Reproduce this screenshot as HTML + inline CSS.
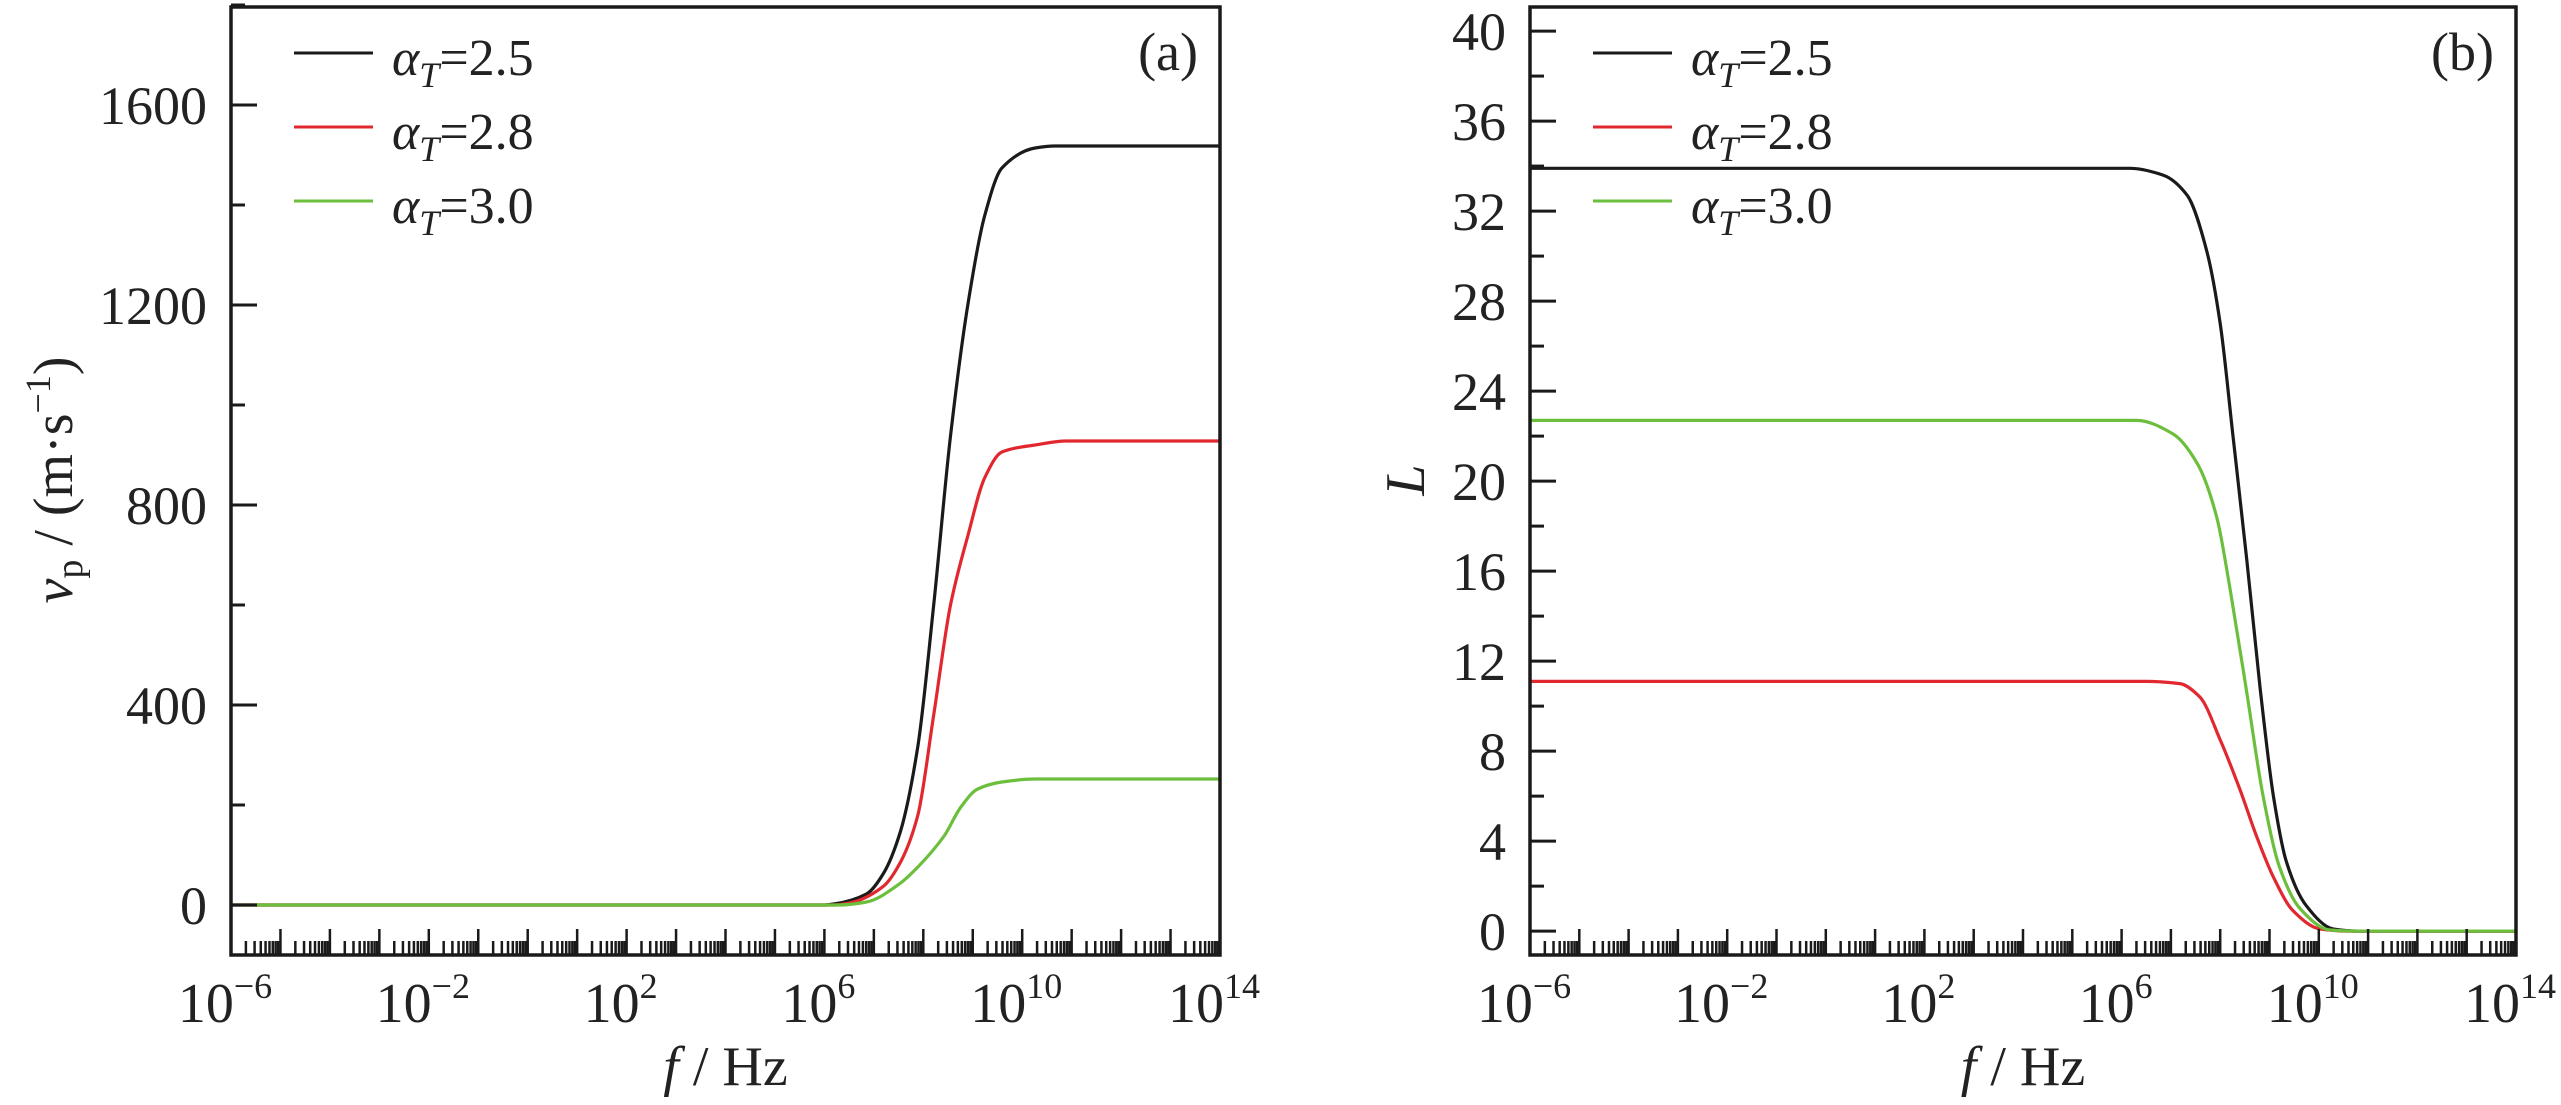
<!DOCTYPE html>
<html><head><meta charset="utf-8"><title>vp and L vs f</title>
<style>html,body{margin:0;padding:0;background:#fff;}svg{display:block;}text{font-family:"Liberation Serif","DejaVu Serif",serif;fill:#222;}</style>
</head><body>
<svg id="chart" width="2561" height="1105" viewBox="0 0 2561 1105" xmlns="http://www.w3.org/2000/svg"></svg>
<script>
// ---- data (log10 f, value) ----
const seriesNames = ["αT=2.5","αT=2.8","αT=3.0"];
const seriesColors = ["#1a1a1a","#e0282e","#6cbf3c"];
// panel (a) v_p
const aBlackX = [-6,6.0,6.19,6.85,7.2,7.54,7.89,8.21,8.55,8.9,9.24,9.59,10.26,10.66,14];
const aBlackY = [0,0,2,22,64,148,318,600,938,1200,1378,1474,1514,1518,1518];
const aRedX = [-6,6.2,6.51,7.2,7.54,7.89,8.21,8.55,8.9,9.24,9.59,10.26,10.9,14];
const aRedY = [0,0,4,38,86,180,380,600,738,854,906,920,928,928];
const aGreenX = [-6,6.3,6.85,7.54,7.89,8.42,8.76,9.1,9.59,10.26,14];
const aGreenY = [0,0,6,44,76,138,196,232,246,252,252];
// panel (b) L
const bBlackX = [-6,6.17,6.84,7.33,7.73,8.0,8.26,8.54,8.81,9.08,9.34,9.74,10.29,10.8,14];
const bBlackY = [33.9,33.9,33.6,32.7,30.2,27.0,22.0,16.5,10.8,6.0,3.1,1.15,0.1,0,0];
const bGreenX = [-6,6.3,7.04,7.53,7.93,8.2,8.54,8.87,9.21,9.62,10.23,10.8,14];
const bGreenY = [22.7,22.7,22.1,20.8,18.4,15.2,10.6,6.0,2.8,1.0,0.05,0,0];
const bRedX = [-6,6.5,7.18,7.59,8.0,8.4,8.74,9.08,9.48,10.02,10.6,14];
const bRedY = [11.1,11.1,11.0,10.4,8.5,6.3,4.2,2.4,0.9,0.1,0,0];
const aYTicks = [0,400,800,1200,1600];
const bYTicks = [0,4,8,12,16,20,24,28,32,36,40];
const xTickExps = [-6,-2,2,6,10,14];

const NS="http://www.w3.org/2000/svg";
const svg=document.getElementById('chart');
function mk(tag,attrs,parent){const e=document.createElementNS(NS,tag);for(const k in attrs)e.setAttribute(k,attrs[k]);(parent||svg).appendChild(e);return e;}
// monotone cubic (Fritsch-Carlson) path
function monotone(pts){
 const n=pts.length,dx=[],s=[],m=[];
 for(let i=0;i<n-1;i++){dx[i]=pts[i+1][0]-pts[i][0];s[i]=(pts[i+1][1]-pts[i][1])/dx[i];}
 m[0]=s[0];m[n-1]=s[n-2];
 for(let i=1;i<n-1;i++){
  if(s[i-1]*s[i]<=0)m[i]=0;
  else{const w1=2*dx[i]+dx[i-1],w2=dx[i]+2*dx[i-1];m[i]=(w1+w2)/(w1/s[i-1]+w2/s[i]);}
 }
 let d="M"+pts[0][0].toFixed(1)+","+pts[0][1].toFixed(1);
 for(let i=0;i<n-1;i++){const h=dx[i]/3;
  d+=" C"+(pts[i][0]+h).toFixed(1)+","+(pts[i][1]+m[i]*h).toFixed(1)+" "+(pts[i+1][0]-h).toFixed(1)+","+(pts[i+1][1]-m[i+1]*h).toFixed(1)+" "+pts[i+1][0].toFixed(1)+","+pts[i+1][1].toFixed(1);}
 return d;}

function panel(cfg){
 const g=mk('g',{});
 
 
 const L=cfg.left,R=cfg.right,T=7,B=955;
 const xs=v=>L+(v+6)/20*(R-L);
 const ys=v=>B-(v-cfg.ymin)/(cfg.ymax-cfg.ymin)*(B-T);
 cfg.series.forEach((s,i)=>{
  const pts=s[0].map((x,j)=>[xs(x),ys(s[1][j])]);
  const p=mk('path',{d:monotone(pts),fill:'none',stroke:seriesColors[i],'stroke-width':3.2},g);
  
  
 });
 const fr=mk('rect',{x:L,y:T,width:R-L,height:B-T,fill:'none',stroke:'#1a1a1a','stroke-width':3.5},g);
 
 
 const yt=cfg.yticks;const step=yt[1]-yt[0];
 for(let v=yt[0];v<=yt[yt.length-1]+step/2;v+=step/2){
  const y=ys(v);const major=Math.abs((v-yt[0])/step-Math.round((v-yt[0])/step))<1e-6;
  mk('line',{x1:L,x2:L+(major?26:14),y1:y,y2:y,stroke:'#1a1a1a','stroke-width':3},g);
 }
 yt.forEach(v=>{const t=mk('text',{x:L-24,y:ys(v)+19,'text-anchor':'end','font-size':54},g);t.textContent=v;
  
  });
 for(let e=-6;e<=14;e++){
  mk('line',{x1:xs(e),x2:xs(e),y1:B,y2:B-26,stroke:'#1a1a1a','stroke-width':2.5},g);
  if(e<14)for(let m=2;m<=9;m++){const x=xs(e+Math.log10(m));mk('line',{x1:x,x2:x,y1:B,y2:B-14,stroke:'#1a1a1a','stroke-width':2.5},g);}
 }
 xTickExps.forEach(e=>{const t=mk('text',{x:xs(e)-6,y:1022,'text-anchor':'middle','font-size':56},g);
  t.innerHTML='10<tspan dy="-24" font-size="36">'+(e<0?'−'+(-e):e)+'</tspan>';
  
  });
 const xl=mk('text',{x:(L+R)/2,y:1085,'text-anchor':'middle','font-size':56},g);
 xl.innerHTML='<tspan font-style="italic">f</tspan> / Hz';
 
 
 const yl=mk('text',{transform:'translate('+cfg.ylx+',480) rotate(-90)','text-anchor':'middle','font-size':56},g);
 yl.innerHTML=cfg.ylabel;
 
 
 const pl=mk('text',{x:R-22,y:70,'text-anchor':'end','font-size':54},g);pl.textContent=cfg.tag;
 
 
 seriesNames.forEach((n,i)=>{const y=53+i*74;
  const lg=mk('g',{},g);
  
  
  mk('line',{x1:L+63,x2:L+142,y1:y,y2:y,stroke:seriesColors[i],'stroke-width':3},lg);
  const t=mk('text',{x:L+161,y:y+22,'font-size':52},lg);
  t.innerHTML='<tspan font-style="italic">α</tspan><tspan font-style="italic" font-size="36" dy="12">T</tspan><tspan dy="-12">=</tspan>'+n.split('=')[1];
 });
}
panel({name:'panel-a-phase-velocity',left:231,right:1220,ymin:-100,ymax:1796,yticks:aYTicks,tag:'(a)',ylx:72,
 ylabel:'<tspan font-style="italic">v</tspan><tspan font-size="38" dy="10">p</tspan><tspan dy="-10"> / (m·s</tspan><tspan font-size="36" dy="-22">−1</tspan><tspan dy="22">)</tspan>',
 series:[[aBlackX,aBlackY],[aRedX,aRedY],[aGreenX,aGreenY]]});
panel({name:'panel-b-L',left:1530,right:2516,ymin:-1.06,ymax:41.07,yticks:bYTicks,tag:'(b)',ylx:1424,
 ylabel:'<tspan font-style="italic">L</tspan>',
 series:[[bBlackX,bBlackY],[bRedX,bRedY],[bGreenX,bGreenY]]});
</script>
</body></html>
